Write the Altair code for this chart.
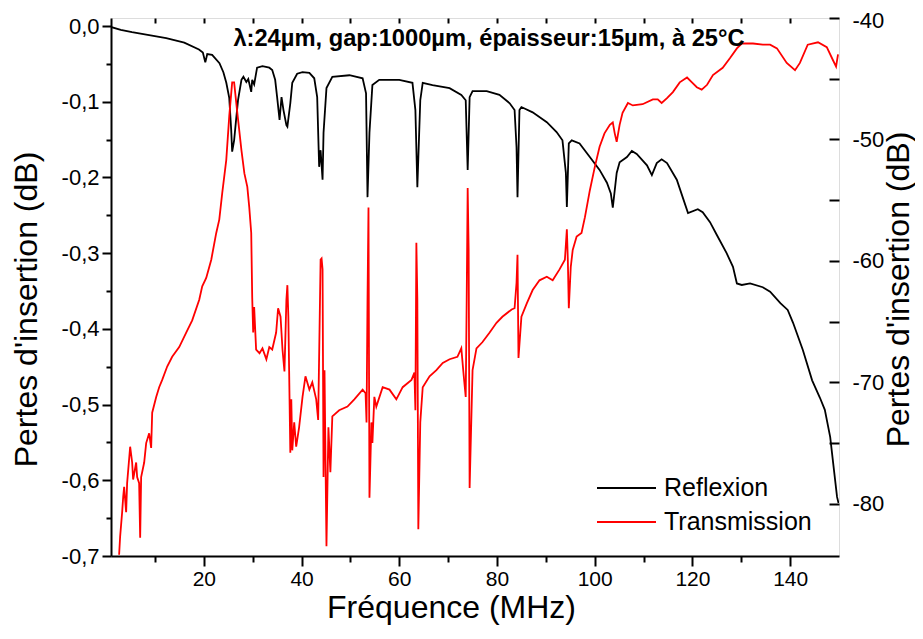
import altair as alt
import pandas as pd

FONT = "Liberation Sans"

# ---- Reflexion (left axis, dB) ----
refl_f = [0.8, 3.0, 5.3, 8.8, 12.3, 16.0, 19.0, 19.8, 20.3, 20.7, 21.7, 23.2, 24.0, 24.6,
          25.2, 25.6, 25.8, 26.2, 26.6, 27.0, 27.7, 28.1, 28.7, 29.1, 29.7, 29.9, 30.3,
          30.9, 32.0, 33.4, 34.0, 34.6, 35.0, 35.5, 35.9, 36.3, 36.9, 37.1, 37.7, 38.1,
          39.1, 40.2, 41.6, 42.6, 43.2, 43.6, 43.9, 44.3, 44.5, 45.1, 46.3, 49.8, 52.5,
          53.2, 53.5, 53.9, 54.5, 55.9, 60.0, 62.7, 63.3, 63.7, 64.3, 64.8, 66.8, 70.3,
          72.7, 73.6, 74.0, 74.4, 75.0, 77.9, 80.5, 82.6, 83.6, 84.0, 84.2, 84.6, 85.0,
          87.3, 90.2, 92.2, 93.4, 94.1, 94.3, 94.7, 95.3, 96.9, 99.0, 101.0, 102.5, 103.3,
          103.7, 104.5, 105.1, 106.6, 107.6, 108.6, 110.7, 111.7, 112.7, 113.7, 114.8,
          116.8, 118.0, 119.1, 121.1, 122.1, 123.6, 125.0, 127.0, 128.3, 129.1, 130.1,
          131.8, 134.4, 135.9, 138.0, 139.5, 140.6, 142.6, 144.5, 146.1, 147.1, 148.2,
          148.8, 149.6, 149.9]
refl_db = [-0.001, -0.005, -0.008, -0.012, -0.016, -0.022, -0.031, -0.035, -0.048, -0.037,
           -0.038, -0.049, -0.061, -0.075, -0.095, -0.137, -0.166, -0.151, -0.124, -0.098,
           -0.071, -0.067, -0.074, -0.070, -0.087, -0.071, -0.077, -0.055, -0.053, -0.055,
           -0.058, -0.071, -0.094, -0.124, -0.094, -0.111, -0.131, -0.133, -0.102, -0.075,
           -0.063, -0.061, -0.062, -0.069, -0.094, -0.186, -0.164, -0.203, -0.141, -0.082,
           -0.067, -0.065, -0.069, -0.089, -0.226, -0.141, -0.078, -0.071, -0.071, -0.075,
           -0.111, -0.213, -0.098, -0.075, -0.078, -0.082, -0.091, -0.098, -0.190, -0.094,
           -0.086, -0.086, -0.091, -0.102, -0.111, -0.160, -0.226, -0.111, -0.107, -0.114,
           -0.127, -0.140, -0.151, -0.194, -0.239, -0.155, -0.151, -0.155, -0.173, -0.190,
           -0.207, -0.221, -0.240, -0.194, -0.180, -0.173, -0.165, -0.169, -0.184, -0.197,
           -0.181, -0.176, -0.181, -0.203, -0.226, -0.247, -0.242, -0.246, -0.259, -0.276,
           -0.300, -0.318, -0.340, -0.342, -0.340, -0.345, -0.351, -0.366, -0.375, -0.392,
           -0.428, -0.468, -0.491, -0.507, -0.543, -0.577, -0.622, -0.630]

# ---- Transmission (right axis, dB) ----
trans_f = [2.66, 2.87, 3.28, 3.5, 3.69, 4.10, 4.30, 4.92, 5.33, 5.53, 6.15, 6.35, 6.76, 6.97,
           7.17, 7.79, 8.20, 8.81, 9.22, 9.43, 10.25, 10.86, 11.48, 12.50, 13.52, 14.96,
           16.39, 17.62, 19.06, 19.67, 20.49, 21.52, 22.54, 23.16, 23.77, 24.59, 25.2, 25.8,
           26.2, 26.8, 27.7, 28.3, 28.9, 29.3, 29.7, 29.9, 30.1, 30.3, 30.7, 31.4, 32.0,
           32.8, 33.4, 34.0, 34.8, 35.2, 35.7, 36.1, 36.5, 36.9, 37.1, 37.3, 37.7, 37.9,
           38.1, 38.5, 38.9, 39.5, 40.2, 40.8, 41.6, 42.2, 43.0, 43.4, 43.9, 44.1, 44.3,
           44.5, 44.7, 45.1, 45.5, 45.9, 46.3, 47.7, 49.4, 50.8, 52.5, 53.1, 53.3, 53.5,
           53.7, 53.9, 54.3, 54.5, 54.9, 55.3, 56.6, 58.0, 59.4, 60.7, 62.5, 63.1, 63.3,
           63.5, 63.7, 63.9, 64.3, 64.8, 66.2, 67.6, 68.9, 70.3, 71.9, 72.7, 73.2, 73.6,
           73.8, 74.0, 74.2, 74.4, 75.0, 75.8, 77.0, 78.5, 79.9, 81.1, 83.0, 83.6, 84.0,
           84.2, 84.4, 85.0, 86.1, 87.3, 88.7, 90.2, 91.4, 92.8, 93.9, 94.3, 94.5, 94.7,
           95.1, 95.5, 96.3, 97.3, 98.0, 99.0, 100.0, 101.0, 102.0, 103.1, 103.7, 104.1,
           104.5, 105.1, 105.7, 106.8, 107.8, 109.8, 111.9, 112.9, 113.7, 114.8, 116.0,
           117.4, 118.9, 119.9, 120.9, 121.9, 123.0, 124.2, 126.2, 127.7, 129.1, 130.1,
           132.4, 134.4, 135.9, 137.3, 139.3, 141.0, 142.0, 143.6, 145.7, 147.5, 148.8,
           149.4, 149.8]
trans_db = [-84.2, -82.7, -80.7, -79.4, -78.6, -80.7, -78.3, -75.3, -76.6, -78.0, -76.6,
            -77.8, -78.3, -82.8, -77.8, -76.6, -75.0, -74.2, -75.4, -72.5, -71.2, -70.4,
            -69.8, -68.7, -67.9, -67.1, -65.9, -64.9, -63.2, -62.1, -61.4, -59.9, -57.7,
            -56.6, -54.4, -51.7, -48.1, -45.3, -45.3, -47.6, -50.9, -52.8, -53.9, -55.6,
            -57.7, -63.0, -65.9, -63.8, -67.3, -67.6, -67.2, -68.1, -67.1, -67.3, -65.9,
            -63.9, -64.6, -67.3, -69.1, -63.2, -62.0, -64.6, -75.8, -71.4, -75.6, -73.3,
            -75.3, -73.7, -71.2, -69.5, -70.6, -70.0, -71.4, -73.1, -59.9, -59.8, -60.7,
            -77.8, -69.0, -83.5, -73.7, -77.4, -72.8, -72.3, -72.0, -71.4, -70.6, -70.9,
            -73.3, -63.2, -55.6, -79.5, -73.3, -75.0, -71.2, -72.0, -70.4, -70.6, -71.4,
            -70.4, -69.8, -69.2, -72.3, -58.5, -63.2, -82.1, -73.3, -70.4, -69.5, -69.0,
            -68.4, -68.1, -67.9, -67.2, -69.5, -71.2, -63.2, -54.0, -59.1, -78.7, -69.0,
            -67.2, -66.7, -65.9, -65.1, -64.6, -64.0, -63.9, -61.8, -59.5, -68.0, -64.6,
            -63.5, -62.4, -61.6, -61.3, -61.6, -60.7, -59.9, -57.4, -59.9, -63.9, -60.5,
            -59.1, -58.0, -57.7, -56.4, -54.2, -52.3, -50.6, -49.5, -48.8, -48.6, -49.5,
            -50.2, -48.8, -47.8, -47.0, -47.2, -47.1, -46.7, -46.7, -47.0, -46.6, -46.1,
            -45.3, -44.9, -45.3, -45.7, -45.9, -45.5, -44.7, -44.1, -43.3, -42.5, -42.1,
            -42.1, -42.2, -42.2, -42.5, -43.7, -44.3, -43.7, -42.2, -42.0, -42.4, -43.5,
            -44.0, -43.0]

series_names = ["Reflexion", "Transmission"]
series_colors = ["#000000", "#ff0000"]

left_ticks = [round(-0.7 + 0.05 * i, 2) for i in range(15)]
right_ticks = [-80, -75, -70, -65, -60, -55, -50, -45, -40]
x_ticks = list(range(10, 150, 10))

df_r = pd.DataFrame({"f": refl_f, "v": refl_db, "serie": series_names[0]})
df_t = pd.DataFrame({"f": trans_f, "v": trans_db, "serie": series_names[1]})

xscale = alt.Scale(domain=[1, 150], nice=False, zero=False)

color = alt.Color(
    "serie:N",
    scale=alt.Scale(domain=series_names, range=series_colors),
    legend=alt.Legend(
        title=None, orient="none", legendX=485, legendY=453, direction="vertical",
        symbolType="stroke", symbolSize=3481, symbolStrokeWidth=2, clipHeight=34,
        rowPadding=0, padding=0, labelFont=FONT, labelFontSize=25, labelColor="black",
        labelOffset=7, symbolOffset=0,
    ),
)

refl = alt.Chart(df_r).mark_line(strokeWidth=1.8, clip=True).encode(
    x=alt.X("f:Q", scale=xscale, axis=alt.Axis(
        orient="bottom", values=x_ticks, title="Fréquence (MHz)",
        labelExpr="datum.value % 20 == 0 ? datum.label : ''",
        tickSize={"condition": {"test": "datum.value % 20 == 0", "value": 10}, "value": 6},
        tickColor="black", tickWidth=2, domainColor="black", domainWidth=2,
        labelFont=FONT, labelFontSize=21, labelColor="black", labelPadding=2,
        titleFont=FONT, titleFontSize=32, titleFontWeight="normal", titleColor="black",
        titleX=340, titleY=36, grid=False,
    )),
    y=alt.Y("v:Q", scale=alt.Scale(domain=[-0.7, 0.0106], nice=False, zero=False), axis=alt.Axis(
        orient="left", values=left_ticks, title="Pertes d'insertion (dB)",
        labelExpr="abs(round(datum.value*20)) % 2 == 0 ? (datum.value < -0.001 ? '-' : '') + replace(format(abs(datum.value), '.1f'), '.', ',') : ''",
        tickSize={"condition": {"test": "abs(round(datum.value*20)) % 2 == 0", "value": 9}, "value": 5},
        tickColor="black", tickWidth=2, domainColor="black", domainWidth=2,
        labelFont=FONT, labelFontSize=22, labelColor="black", labelPadding=3,
        titleFont=FONT, titleFontSize=32, titleFontWeight="normal", titleColor="black",
        titlePadding=18, titleY=291, grid=False,
    )),
    color=color,
)

trans = alt.Chart(df_t).mark_line(strokeWidth=1.8, clip=True).encode(
    x=alt.X("f:Q", scale=xscale, axis=alt.Axis(
        orient="top", values=x_ticks, title=None, labels=False, domain=False,
        tickSize=5, offset=-5, tickColor="black", tickWidth=2, grid=False,
    )),
    y=alt.Y("v:Q", scale=alt.Scale(domain=[-84.3, -40], nice=False, zero=False), axis=alt.Axis(
        orient="right", values=right_ticks, title="Pertes d'insertion (dB)",
        labelExpr="datum.value % 10 == 0 ? toString(datum.value) : ''",
        labelOffset={"condition": {"test": "datum.value == -40", "value": 2}, "value": 0},
        tickSize=10, offset=-10, domain=False, tickColor="black", tickWidth=2,
        labelFont=FONT, labelFontSize=22, labelColor="black", labelPadding=13,
        titleFont=FONT, titleFontSize=32, titleFontWeight="normal", titleColor="black",
        titleAngle=270, titleBaseline="top", titlePadding=0, titleY=271, grid=False,
    )),
    color=color,
)

chart = alt.layer(refl, trans).resolve_scale(y="independent").resolve_axis(
    x="independent", y="independent"
).properties(
    width=728, height=538,
    padding={"left": 103, "top": 10, "right": 76, "bottom": 70},
    autosize=alt.AutoSizeParams(type="none"),
    title=alt.TitleParams(
        text="λ:24µm, gap:1000µm, épaisseur:15µm, à 25°C",
        font=FONT, fontSize=23.7, fontWeight="bold", color="black",
        anchor="middle", dx=14, offset=-42,
    ),
).configure_view(stroke="black", strokeWidth=2).configure(background="white")

chart.save("out.html", embed_options={"renderer": "svg", "actions": False})
